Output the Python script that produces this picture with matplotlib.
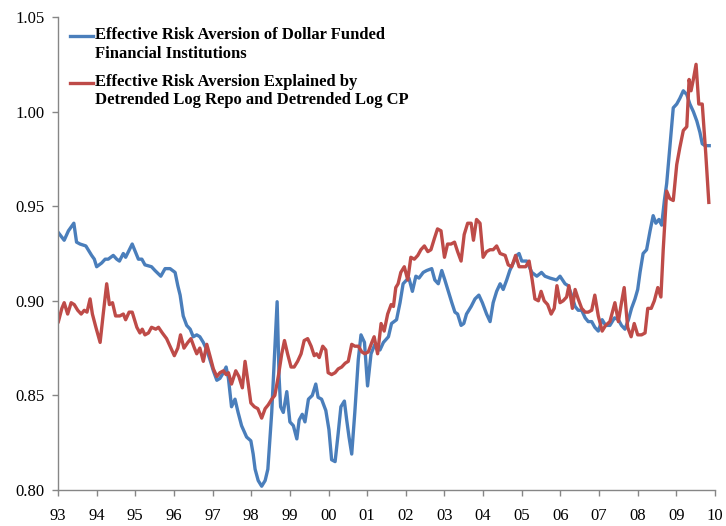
import numpy as np
import matplotlib
matplotlib.use("Agg")
import matplotlib.pyplot as plt
from matplotlib.legend_handler import HandlerLine2D

plt.rcParams['font.family'] = ['Liberation Serif', 'DejaVu Serif']

# ---- data (decimal years, values) ----
blue_t = [1993.01,1993.16,1993.27,1993.34,1993.41,1993.48,1993.57,1993.72,1993.78,1993.87,1993.94,
          1994.00,1994.13,1994.22,1994.30,1994.43,1994.52,1994.59,1994.69,1994.75,1994.92,
          1995.08,1995.17,1995.25,1995.42,1995.51,1995.66,1995.77,1995.90,
          1996.03,1996.10,1996.16,1996.24,1996.33,1996.42,1996.50,1996.59,1996.67,1996.76,1996.85,1996.93,
          1997.02,1997.11,1997.19,1997.28,1997.35,1997.41,1997.49,1997.58,1997.66,1997.75,1997.88,1997.99,
          1998.05,1998.10,1998.18,1998.27,1998.36,1998.43,1998.53,1998.61,1998.67,1998.72,1998.76,1998.83,1998.92,
          1999.00,1999.09,1999.18,1999.24,1999.32,1999.39,1999.48,1999.58,1999.67,1999.73,1999.82,1999.93,
          2000.01,2000.08,2000.17,2000.25,2000.32,2000.41,2000.47,2000.53,2000.60,2000.68,2000.77,2000.84,2000.93,
          2001.01,2001.10,2001.20,2001.33,2001.42,2001.55,2001.63,2001.76,2001.85,2001.93,
          2002.02,2002.08,2002.17,2002.26,2002.34,2002.45,2002.54,2002.67,2002.75,2002.84,2002.93,
          2003.01,2003.10,2003.19,2003.27,2003.34,2003.43,2003.50,2003.57,2003.69,2003.79,2003.89,2003.98,
          2004.09,2004.18,2004.26,2004.35,2004.44,2004.52,2004.61,2004.69,2004.78,2004.87,2004.93,
          2005.00,2005.13,2005.26,2005.39,2005.51,2005.60,2005.73,2005.90,2005.99,
          2006.12,2006.20,2006.29,2006.38,2006.46,2006.55,2006.64,2006.72,2006.81,2006.89,2006.98,
          2007.08,2007.17,2007.28,2007.40,2007.50,2007.58,2007.67,2007.76,2007.84,2007.93,
          2008.00,2008.06,2008.14,2008.23,2008.32,2008.40,2008.47,2008.55,2008.62,2008.69,2008.75,2008.83,2008.92,
          2009.01,2009.09,2009.18,2009.27,2009.35,2009.44,2009.53,2009.61,2009.67,2009.74,2009.85]
blue_v = [0.936,0.932,0.937,0.939,0.941,0.931,0.930,0.929,0.927,0.924,0.922,
          0.918,0.920,0.922,0.922,0.924,0.922,0.921,0.925,0.923,0.930,
          0.922,0.922,0.919,0.918,0.916,0.913,0.917,0.917,
          0.915,0.908,0.903,0.892,0.887,0.885,0.881,0.882,0.881,0.878,0.874,0.869,
          0.863,0.858,0.859,0.862,0.865,0.859,0.844,0.848,0.841,0.834,0.828,0.826,
          0.819,0.811,0.805,0.802,0.805,0.811,0.841,0.874,0.8995,0.860,0.844,0.841,0.852,
          0.836,0.834,0.827,0.837,0.840,0.836,0.848,0.850,0.856,0.849,0.848,0.842,
          0.832,0.816,0.815,0.830,0.844,0.847,0.837,0.828,0.819,0.841,0.869,0.882,0.878,
          0.855,0.872,0.877,0.874,0.878,0.881,0.888,0.890,0.899,0.909,
          0.911,0.912,0.905,0.913,0.912,0.915,0.916,0.917,0.911,0.909,0.916,
          0.911,0.905,0.899,0.894,0.893,0.887,0.888,0.893,0.897,0.901,0.903,0.899,
          0.893,0.889,0.899,0.905,0.909,0.906,0.911,0.916,0.920,0.924,0.925,
          0.921,0.921,0.915,0.913,0.915,0.913,0.912,0.911,0.913,
          0.909,0.908,0.903,0.897,0.895,0.895,0.891,0.889,0.889,0.886,0.884,
          0.890,0.887,0.887,0.891,0.890,0.887,0.885,0.890,0.896,0.901,
          0.906,0.915,0.925,0.927,0.937,0.945,0.941,0.943,0.940,0.953,0.962,0.981,1.002,
          1.004,1.007,1.011,1.009,1.004,1.000,0.995,0.989,0.983,0.982,0.982]

red_t = [1993.01,1993.10,1993.16,1993.25,1993.34,1993.42,1993.51,1993.60,1993.68,1993.75,1993.83,1993.89,1993.98,
         1994.09,1994.17,1994.26,1994.33,1994.41,1994.49,1994.60,1994.69,1994.75,1994.84,1994.92,
         1995.04,1995.12,1995.18,1995.25,1995.34,1995.42,1995.53,1995.60,1995.70,1995.81,1995.92,
         1996.01,1996.10,1996.17,1996.26,1996.36,1996.44,1996.53,1996.59,1996.67,1996.76,1996.85,1996.93,
         1997.02,1997.11,1997.19,1997.28,1997.35,1997.41,1997.49,1997.60,1997.68,1997.77,1997.84,1997.91,1997.99,
         1998.08,1998.17,1998.27,1998.36,1998.44,1998.53,1998.61,1998.70,1998.79,1998.86,1998.94,
         1999.03,1999.11,1999.20,1999.29,1999.37,1999.46,1999.55,1999.63,1999.69,1999.76,1999.85,1999.93,1999.99,
         2000.08,2000.17,2000.25,2000.34,2000.43,2000.51,2000.60,2000.68,2000.77,2000.86,2000.94,
         2001.03,2001.12,2001.18,2001.27,2001.36,2001.44,2001.53,2001.62,2001.68,2001.74,2001.80,2001.87,2001.96,
         2002.05,2002.13,2002.22,2002.31,2002.39,2002.48,2002.57,2002.65,2002.74,2002.82,2002.91,
         2003.00,2003.08,2003.17,2003.26,2003.34,2003.43,2003.51,2003.60,2003.69,2003.75,2003.83,2003.92,
         2004.00,2004.09,2004.18,2004.26,2004.35,2004.44,2004.57,2004.65,2004.74,2004.84,2004.93,
         2005.01,2005.10,2005.19,2005.27,2005.34,2005.43,2005.50,2005.58,2005.67,2005.76,2005.84,2005.91,2005.99,
         2006.07,2006.16,2006.22,2006.31,2006.38,2006.46,2006.55,2006.64,2006.72,2006.81,2006.89,2006.98,
         2007.08,2007.17,2007.28,2007.41,2007.50,2007.58,2007.65,2007.74,2007.83,2007.91,
         2008.00,2008.10,2008.19,2008.26,2008.35,2008.43,2008.52,2008.60,2008.66,2008.75,2008.83,2008.92,
         2009.01,2009.09,2009.18,2009.27,2009.33,2009.38,2009.44,2009.51,2009.58,2009.67,2009.76,2009.84]
red_v = [0.889,0.896,0.899,0.893,0.899,0.898,0.895,0.893,0.895,0.894,0.901,0.893,0.886,
         0.878,0.893,0.909,0.898,0.899,0.892,0.892,0.893,0.890,0.894,0.894,
         0.886,0.883,0.885,0.882,0.883,0.886,0.885,0.886,0.883,0.880,0.875,
         0.871,0.875,0.882,0.875,0.878,0.880,0.875,0.872,0.875,0.868,0.877,0.871,
         0.864,0.860,0.862,0.863,0.861,0.862,0.856,0.863,0.860,0.854,0.868,0.858,0.846,
         0.844,0.843,0.838,0.843,0.845,0.848,0.850,0.860,0.872,0.879,0.872,
         0.865,0.865,0.868,0.872,0.879,0.880,0.876,0.871,0.872,0.870,0.876,0.874,0.862,
         0.861,0.862,0.864,0.865,0.867,0.868,0.877,0.876,0.876,0.873,0.872,
         0.873,0.878,0.881,0.872,0.888,0.884,0.893,0.898,0.897,0.907,0.909,0.915,0.918,
         0.911,0.923,0.922,0.924,0.927,0.929,0.926,0.927,0.933,0.938,0.937,
         0.923,0.930,0.930,0.931,0.926,0.921,0.935,0.941,0.941,0.932,0.943,0.941,
         0.923,0.926,0.927,0.927,0.929,0.925,0.924,0.919,0.918,0.924,0.918,
         0.918,0.918,0.921,0.911,0.901,0.900,0.905,0.900,0.898,0.893,0.896,0.908,0.899,
         0.900,0.902,0.908,0.896,0.906,0.901,0.896,0.894,0.894,0.895,0.903,0.892,
         0.884,0.887,0.889,0.899,0.889,0.899,0.907,0.886,0.881,0.888,
         0.882,0.882,0.883,0.896,0.896,0.900,0.907,0.902,0.927,0.958,0.954,0.953,
         0.972,0.981,0.990,0.992,1.017,1.011,1.017,1.025,1.004,1.004,0.978,0.952]

years = list(range(1993, 2011))
year_labels = [f"{y % 100:02d}" for y in years]
y_ticks = [0.80, 0.85, 0.90, 0.95, 1.00, 1.05]

blue_label = "Effective Risk Aversion of Dollar Funded\nFinancial Institutions"
red_label = "Effective Risk Aversion Explained by\nDetrended Log Repo and Detrended Log CP"


class FirstLineHandler(HandlerLine2D):
    # put the legend line next to the first line of a two-line label
    def create_artists(self, legend, orig_handle, xdescent, ydescent,
                       width, height, fontsize, trans):
        arts = super().create_artists(legend, orig_handle, xdescent, ydescent,
                                      width, height, fontsize, trans)
        for a in arts:
            a.set_ydata(np.asarray(a.get_ydata()) + 0.52 * fontsize)
        return arts


fig = plt.figure(figsize=(7.26, 5.26), dpi=100)
ax = fig.add_axes([58 / 726, 36 / 526, 657 / 726, 473 / 526])

ax.plot(blue_t, blue_v, color='#4A7EBB', lw=2.4, label=blue_label, solid_joinstyle='round')
ax.plot(red_t, red_v, color='#BE4B48', lw=2.4, label=red_label, solid_joinstyle='round')

ax.set_xlim(1993, 2010)
ax.set_ylim(0.80, 1.05)
ax.set_xticks(years)
ax.set_xticklabels(year_labels)
ax.set_yticks(y_ticks)
ax.set_yticklabels([f"{v:.2f}" for v in y_ticks])

for s in ['top', 'right']:
    ax.spines[s].set_visible(False)
for s in ['left', 'bottom']:
    ax.spines[s].set_color('#868686')
    ax.spines[s].set_linewidth(1.0)

ax.tick_params(axis='both', direction='out', length=4.3, width=1.0, color='#868686',
               labelsize=12, labelcolor='black')
ax.tick_params(axis='x', pad=8.3)
ax.tick_params(axis='y', pad=5.5)

leg = ax.legend(loc='upper left', bbox_to_anchor=(0.018, 0.978), frameon=False,
                borderpad=0, borderaxespad=0, handlelength=1.375, handletextpad=0.15,
                labelspacing=0.73, prop={'family': 'Liberation Serif', 'weight': 'bold', 'size': 12},
                handler_map={matplotlib.lines.Line2D: FirstLineHandler()})
for t in leg.get_texts():
    t.set_linespacing(1.2)

fig.savefig("out.png", dpi=100)
